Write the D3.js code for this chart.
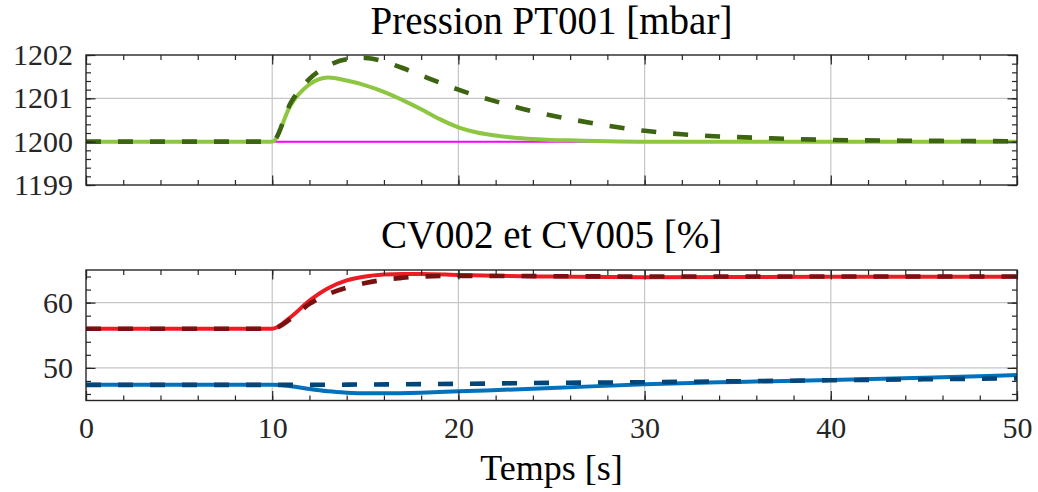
<!DOCTYPE html>
<html><head><meta charset="utf-8">
<script src="https://cdn.jsdelivr.net/npm/d3@7"></script>
<style>
body{margin:0;background:#fff}
svg{display:block}
svg text{font-family:'Liberation Serif','DejaVu Serif','Noto Serif',serif !important}
</style>
</head><body>
<svg id="c" width="1038" height="492"></svg>
<script>
// ---- data ----
const timeTicks = [0, 10, 20, 30, 40, 50];
const pressTicks = [1199, 1200, 1201, 1202];
const cvTicks = [50, 60];
const pressTitle = "Pression PT001 [mbar]";
const cvTitle = "CV002 et CV005 [%]";
const xTitle = "Temps [s]";

// Pressure set point (magenta)
const tRef = [0, 50];
const pRef = [1200, 1200];
// Pressure, solid light green
const tPs = [0, 10, 11, 12, 13, 14, 15, 16, 17, 18, 19, 20, 21, 22, 23, 24, 25, 26, 28, 30, 50];
const pSolid = [1200, 1200, 1200.85, 1201.32, 1201.48, 1201.41, 1201.3, 1201.15, 1200.96, 1200.75, 1200.52, 1200.33, 1200.21, 1200.14, 1200.09, 1200.06, 1200.04, 1200.03, 1200.01, 1200, 1200];
// Pressure, dashed dark green
const tPd = [0, 10, 11, 12, 13, 14, 15, 16, 17, 18, 19, 20, 22, 24, 26, 28, 30, 32, 34, 36, 38, 40, 45, 50];
const pDashed = [1200, 1200, 1200.9, 1201.45, 1201.75, 1201.9, 1201.93, 1201.85, 1201.7, 1201.53, 1201.36, 1201.2, 1200.93, 1200.7, 1200.52, 1200.37, 1200.25, 1200.17, 1200.12, 1200.09, 1200.06, 1200.04, 1200.02, 1200.01];
// CV, red solid
const tRs = [0, 10, 11, 12, 13, 14, 15, 16, 17, 18, 20, 22, 25, 30, 40, 50];
const redSolid = [56, 56, 57.8, 60.3, 62.2, 63.4, 64.0, 64.3, 64.4, 64.4, 64.25, 64.1, 64.0, 63.9, 63.95, 63.95];
// CV, dark red dashed
const tRd = [0, 10, 11, 12, 13, 14, 15, 16, 17, 18, 20, 25, 30, 40, 50];
const redDashed = [56, 56, 57.5, 59.8, 61.3, 62.3, 63.0, 63.5, 63.8, 64.0, 64.1, 64.05, 64.0, 64.0, 64.0];
// CV, blue solid
const tBs = [0, 10, 11, 12, 13, 14, 15, 16, 18, 20, 25, 30, 35, 40, 45, 50];
const blueSolid = [47.4, 47.4, 47.2, 46.75, 46.4, 46.2, 46.1, 46.1, 46.2, 46.4, 46.9, 47.5, 47.85, 48.15, 48.5, 48.9];
// CV, dark blue dashed
const tBd = [0, 10, 12, 15, 20, 25, 30, 35, 40, 45, 50];
const blueDashed = [47.4, 47.4, 47.4, 47.45, 47.55, 47.7, 47.8, 47.95, 48.1, 48.25, 48.4];

// ---- drawing ----
const FONT = "'Liberation Serif','DejaVu Serif','Noto Serif',serif";
const L = 86, R = 1017;
const svg = d3.select("#c");
const x = d3.scaleLinear().domain([0, 50]).range([L, R]);
const axisCol = "#262626";
const gridCol = "#c6c6c6";

function panel(cfg) {
  const {y0, y1, dom, major, minor, title, titleY, series, showX, id} = cfg;
  const y = d3.scaleLinear().domain(dom).range([y1, y0]);
  const g = svg.append("g");

  // grid
  g.append("g").selectAll("line").data(timeTicks.filter(d => d > 0 && d < 50)).join("line")
    .attr("x1", d => x(d)).attr("x2", d => x(d)).attr("y1", y0).attr("y2", y1)
    .attr("stroke", gridCol).attr("stroke-width", 1.2);
  g.append("g").selectAll("line").data(major.filter(d => d > dom[0] && d < dom[1])).join("line")
    .attr("x1", L).attr("x2", R).attr("y1", d => y(d)).attr("y2", d => y(d))
    .attr("stroke", gridCol).attr("stroke-width", 1.2);

  // clip
  svg.append("clipPath").attr("id", id).append("rect")
    .attr("x", L).attr("y", y0).attr("width", R - L).attr("height", y1 - y0);
  const lg = g.append("g").attr("clip-path", `url(#${id})`);
  const line = d3.line().x(d => x(d[0])).y(d => y(d[1])).curve(d3.curveMonotoneX);
  series.forEach(s => {
    lg.append("path").datum(d3.zip(s.t, s.v))
      .attr("d", line).attr("fill", "none")
      .attr("stroke", s.c).attr("stroke-width", s.w)
      .attr("stroke-linejoin", "round")
      .attr("stroke-dasharray", s.dash || null);
  });

  const minorX = d3.range(0, 50.001, 2);
  const style = sel => {
    sel.attr("font-family", FONT);
    sel.select(".domain").remove();
    sel.selectAll("line").attr("stroke", axisCol).attr("stroke-width", 1.2);
    sel.selectAll("text").attr("fill", axisCol).attr("font-size", 30)
      .attr("font-family", FONT).style("font-family", FONT);
  };
  // x axes bottom / top
  g.append("g").attr("transform", `translate(0,${y1})`)
    .call(d3.axisBottom(x).tickValues(minorX).tickSize(-5).tickFormat(""))
    .call(style);
  g.append("g").attr("transform", `translate(0,${y1})`)
    .call(d3.axisBottom(x).tickValues(timeTicks).tickSize(-9.5).tickPadding(16.5)
      .tickFormat(showX ? d3.format("d") : ""))
    .call(style);
  g.append("g").attr("transform", `translate(0,${y0})`)
    .call(d3.axisTop(x).tickValues(minorX).tickSize(-5).tickFormat(""))
    .call(style);
  g.append("g").attr("transform", `translate(0,${y0})`)
    .call(d3.axisTop(x).tickValues(timeTicks).tickSize(-9.5).tickFormat(""))
    .call(style);
  // y axes left / right
  g.append("g").attr("transform", `translate(${L},0)`)
    .call(d3.axisLeft(y).tickValues(minor).tickSize(-5).tickFormat(""))
    .call(style);
  g.append("g").attr("transform", `translate(${L},0)`)
    .call(d3.axisLeft(y).tickValues(major).tickSize(-9.5).tickPadding(13).tickFormat(d3.format("d")))
    .call(style);
  g.append("g").attr("transform", `translate(${R},0)`)
    .call(d3.axisRight(y).tickValues(minor).tickSize(-5).tickFormat(""))
    .call(style);
  g.append("g").attr("transform", `translate(${R},0)`)
    .call(d3.axisRight(y).tickValues(major).tickSize(-9.5).tickFormat(""))
    .call(style);

  // box
  g.append("rect").attr("x", L).attr("y", y0).attr("width", R - L).attr("height", y1 - y0)
    .attr("fill", "none").attr("stroke", axisCol).attr("stroke-width", 1.4);

  // title
  svg.append("text").attr("x", (L + R) / 2).attr("y", titleY)
    .attr("text-anchor", "middle").attr("font-size", 39).attr("fill", "#000")
    .attr("font-family", FONT).style("font-family", FONT)
    .text(title);
}

panel({
  id: "clipTop", y0: 55, y1: 185, dom: [1199, 1202],
  major: pressTicks, minor: d3.range(1199, 1202.001, 0.2),
  title: pressTitle, titleY: 34, showX: false,
  series: [
    {t: tRef, v: pRef, c: "#ff00ff", w: 2},
    {t: tPs, v: pSolid, c: "#8dc641", w: 4},
    {t: tPd, v: pDashed, c: "#3d6410", w: 4.6, dash: "15,17"}
  ]
});

panel({
  id: "clipBot", y0: 270, y1: 400.5, dom: [45, 65],
  major: cvTicks, minor: d3.range(46, 64.001, 2),
  title: cvTitle, titleY: 248, showX: true,
  series: [
    {t: tRs, v: redSolid, c: "#ed1c24", w: 4},
    {t: tRd, v: redDashed, c: "#7a1111", w: 4.6, dash: "15,17"},
    {t: tBs, v: blueSolid, c: "#0072bd", w: 4},
    {t: tBd, v: blueDashed, c: "#00467a", w: 4.6, dash: "15,17"}
  ]
});

svg.append("text").attr("x", (L + R) / 2).attr("y", 480)
  .attr("text-anchor", "middle").attr("font-size", 36).attr("fill", "#000")
  .attr("font-family", FONT).style("font-family", FONT)
  .text(xTitle);
</script>
</body></html>
